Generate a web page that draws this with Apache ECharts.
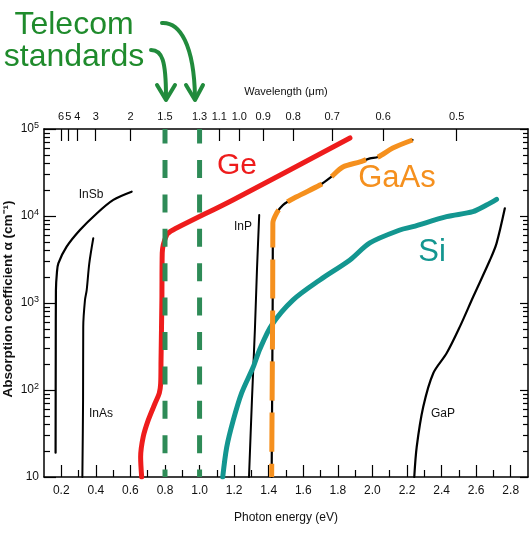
<!DOCTYPE html>
<html>
<head>
<meta charset="utf-8">
<script src="https://cdn.jsdelivr.net/npm/echarts@6/dist/echarts.min.js"></script>
<style>
  html, body { margin: 0; padding: 0; background: #fff; }
  #chart { width: 532px; height: 533px; }
</style>
</head>
<body>
<div id="chart"></div>
<script>
// bottom axis: photon energy (eV)
var energyTicks = [0.2, 0.4, 0.6, 0.8, 1.0, 1.2, 1.4, 1.6, 1.8, 2.0, 2.2, 2.4, 2.6, 2.8];
var energyMinorTicks = [0.3, 0.5, 0.7, 0.9, 1.1, 1.3, 1.5, 1.7, 1.9, 2.1, 2.3, 2.5, 2.7];
// top axis: wavelength labels and where they sit on the energy scale
var wavelengthLabels = ['6', '5', '4', '3', '2', '1.5', '1.3', '1.1', '1.0', '0.9', '0.8', '0.7', '0.6', '0.5'];
var wavelengthTickEnergy = [0.198, 0.241, 0.293, 0.399, 0.601, 0.8, 1.0, 1.114, 1.23, 1.368, 1.542, 1.767, 2.062, 2.487];
// absorption axis ticks
var alphaMajorTicks = [10, 100, 1000, 10000, 100000];
var alphaMinorTicks = [20, 30, 40, 50, 60, 70, 80, 90,
  200, 300, 400, 500, 600, 700, 800, 900,
  2000, 3000, 4000, 5000, 6000, 7000, 8000, 9000,
  20000, 30000, 40000, 50000, 60000, 70000, 80000, 90000];
var telecomEnergy = [0.8, 1.0];

// curves: [photon energy eV, absorption coefficient cm^-1]
var inSb = [[0.167, 19], [0.168, 290], [0.169, 1400], [0.175, 2270], [0.183, 2860], [0.231, 4440],
  [0.308, 6900], [0.405, 10700], [0.501, 15300], [0.607, 19000]];
var inAs = [[0.322, 10], [0.326, 77], [0.327, 535], [0.337, 1080], [0.347, 1410], [0.362, 2860], [0.385, 5550]];
var ge = [[0.665, 10], [0.659, 17], [0.674, 29], [0.703, 45], [0.742, 70], [0.767, 92], [0.775, 119],
  [0.777, 221], [0.782, 1080], [0.784, 3760], [0.81, 6050], [0.846, 6900], [1.193, 15300], [1.87, 78900]];
var inP = [[1.286, 10], [1.303, 77], [1.32, 490], [1.332, 2390], [1.345, 10250]];
var gaAs = [[2.232, 74800], [2.118, 60500], [2.032, 47660], [1.986, 46000], [1.928, 41800], [1.829, 36560],
  [1.754, 27350], [1.696, 22700], [1.562, 16670], [1.482, 13370], [1.446, 10800], [1.424, 8320],
  [1.423, 1080], [1.417, 10]];
var si = [[1.134, 10], [1.157, 22], [1.195, 45], [1.243, 92], [1.311, 185], [1.349, 296], [1.417, 558],
  [1.54, 1080], [1.696, 1840], [1.87, 3120], [1.985, 4900], [2.159, 6900], [2.234, 7540], [2.429, 9820],
  [2.581, 11200], [2.66, 13370], [2.718, 15560]];
var gaP = [[2.242, 10], [2.256, 22], [2.294, 64], [2.352, 156], [2.429, 264], [2.506, 535], [2.583, 1180],
  [2.68, 3120], [2.718, 4850], [2.766, 12250]];

var FONT = "'Liberation Sans', Arial, sans-serif";
var supDigits = { 2: '2', 3: '3', 4: '4', 5: '5' };

function curve(data, color, width, extra) {
  var s = {
    type: 'line',
    data: data,
    symbol: 'none',
    smooth: 0.3,
    silent: true,
    lineStyle: { color: color, width: width, cap: 'round', join: 'round' }
  };
  if (extra) {
    for (var k in extra.lineStyle || {}) s.lineStyle[k] = extra.lineStyle[k];
  }
  return s;
}

var telecomSeries = telecomEnergy.map(function (e) {
  return {
    type: 'line',
    data: [[e, 100000], [e, 10]],
    symbol: 'none',
    silent: true,
    z: 5,
    lineStyle: { color: '#2e8b57', width: 5, type: [18, 16.4], dashOffset: 3.4, cap: 'butt' }
  };
});

function label(text, x, y, size, color, extra) {
  var el = {
    type: 'text', x: x, y: y,
    style: { text: text, font: size + 'px ' + FONT, fill: color, align: 'center', verticalAlign: 'middle' }
  };
  if (extra) for (var k in extra) el[k] = extra[k];
  return el;
}

var chart = echarts.init(document.getElementById('chart'));
var option = {
  animation: false,
  backgroundColor: '#fff',
  grid: { left: 44, right: 4, top: 129, bottom: 56 },
  xAxis: [
    {
      type: 'value', position: 'bottom', min: 0.1, max: 2.9,
      axisLine: { lineStyle: { color: '#000', width: 1.5 } },
      axisTick: { inside: true, length: 12, customValues: energyTicks, lineStyle: { color: '#000', width: 1.2 } },
      axisLabel: {
        customValues: energyTicks, margin: 8, color: '#111', fontSize: 12, fontFamily: FONT,
        formatter: function (v) { return v.toFixed(1); }
      },
      splitLine: { show: false },
      name: 'Photon energy (eV)', nameLocation: 'middle', nameGap: 35,
      nameTextStyle: { color: '#111', fontSize: 12, fontFamily: FONT }
    },
    {
      type: 'value', position: 'bottom', min: 0.1, max: 2.9,
      axisLine: { show: false },
      axisTick: { inside: true, length: 7, customValues: energyMinorTicks, lineStyle: { color: '#000', width: 1.2 } },
      axisLabel: { show: false },
      splitLine: { show: false }
    },
    {
      type: 'value', position: 'top', min: 0.1, max: 2.9,
      axisLine: { lineStyle: { color: '#000', width: 1.5 } },
      axisTick: { inside: true, length: 12, customValues: wavelengthTickEnergy, lineStyle: { color: '#000', width: 1.2 } },
      axisLabel: {
        customValues: wavelengthTickEnergy, margin: 7, color: '#111', fontSize: 11, fontFamily: FONT,
        formatter: function (v) {
          for (var i = 0; i < wavelengthTickEnergy.length; i++) {
            if (Math.abs(wavelengthTickEnergy[i] - v) < 1e-6) return wavelengthLabels[i];
          }
          return '';
        }
      },
      splitLine: { show: false },
      name: 'Wavelength (μm)', nameLocation: 'middle', nameGap: 32,
      nameTextStyle: { color: '#111', fontSize: 11, fontFamily: FONT }
    }
  ],
  yAxis: [
    {
      type: 'log', logBase: 10, min: 10, max: 100000, position: 'left',
      axisLine: { lineStyle: { color: '#000', width: 1.5 } },
      axisTick: { inside: true, length: 12, lineStyle: { color: '#000', width: 1.2 } },
      axisLabel: {
        margin: 5, color: '#111', fontFamily: FONT,
        formatter: function (v) {
          var p = Math.round(Math.log10(v));
          if (p === 1) return '{b|10}';
          return '{b|10}{s|' + supDigits[p] + '}';
        },
        rich: {
          b: { fontSize: 12, fontFamily: FONT, color: '#111', lineHeight: 16 },
          s: { fontSize: 9, fontFamily: FONT, color: '#111', verticalAlign: 'top', lineHeight: 16 }
        }
      },
      splitLine: { show: false }
    },
    {
      type: 'log', logBase: 10, min: 10, max: 100000, position: 'left',
      axisLine: { show: false },
      axisTick: { inside: true, length: 6, customValues: alphaMinorTicks, lineStyle: { color: '#000', width: 1.2 } },
      axisLabel: { show: false },
      splitLine: { show: false }
    },
    {
      type: 'log', logBase: 10, min: 10, max: 100000, position: 'right',
      axisLine: { show: true, lineStyle: { color: '#000', width: 1.5 } },
      axisTick: { inside: true, length: 8, customValues: alphaMajorTicks, lineStyle: { color: '#000', width: 1.2 } },
      axisLabel: { show: false },
      splitLine: { show: false }
    },
    {
      type: 'log', logBase: 10, min: 10, max: 100000, position: 'right',
      axisLine: { show: false },
      axisTick: { inside: true, length: 5, customValues: alphaMinorTicks, lineStyle: { color: '#000', width: 1.2 } },
      axisLabel: { show: false },
      splitLine: { show: false }
    }
  ],
  series: [
    curve(inSb, '#000', 2.2),
    curve(inAs, '#000', 2),
    curve(inP, '#000', 2),
    curve(gaP, '#000', 2.2),
    curve(si, '#139690', 5),
    curve(ge, '#ee1c1c', 5),
    curve(gaAs, '#000', 2.2),
    curve(gaAs, '#f5901e', 5, { lineStyle: { type: [39, 12], cap: 'butt' } })
  ].concat(telecomSeries),
  graphic: [
    label('Telecom', 74, 25, 32, '#1f8b2c'),
    label('standards', 74, 57, 32, '#1f8b2c'),
    { type: 'bezierCurve', shape: { x1: 151, y1: 50, cpx1: 162, cpy1: 50, cpx2: 166, cpy2: 60, x2: 166, y2: 97 },
      style: { stroke: '#218b3c', lineWidth: 4, fill: null, lineCap: 'round' } },
    { type: 'polyline', shape: { points: [[157, 85], [166, 100], [175, 85]] },
      style: { stroke: '#218b3c', lineWidth: 4, fill: null, lineCap: 'round', lineJoin: 'round' } },
    { type: 'bezierCurve', shape: { x1: 162, y1: 23, cpx1: 180, cpy1: 22, cpx2: 194, cpy2: 45, x2: 195, y2: 97 },
      style: { stroke: '#218b3c', lineWidth: 4, fill: null, lineCap: 'round' } },
    { type: 'polyline', shape: { points: [[186, 85], [195, 100], [203, 85]] },
      style: { stroke: '#218b3c', lineWidth: 4, fill: null, lineCap: 'round', lineJoin: 'round' } },
    label('Ge', 237, 166, 30, '#ee1c1c'),
    label('GaAs', 397, 178, 31, '#f5901e'),
    label('Si', 432, 252, 31, '#139690'),
    label('InSb', 91, 195, 12, '#111'),
    label('InAs', 101, 414, 12, '#111'),
    label('InP', 243, 227, 12, '#111'),
    label('GaP', 443, 414, 12, '#111'),
    {
      type: 'text', x: 8, y: 299, rotation: Math.PI / 2,
      style: { text: 'Absorption coefficient α (cm⁻¹)', font: 'bold 13.5px ' + FONT, fill: '#111', align: 'center', verticalAlign: 'middle' }
    }
  ]
};
chart.setOption(option);
</script>
</body>
</html>
